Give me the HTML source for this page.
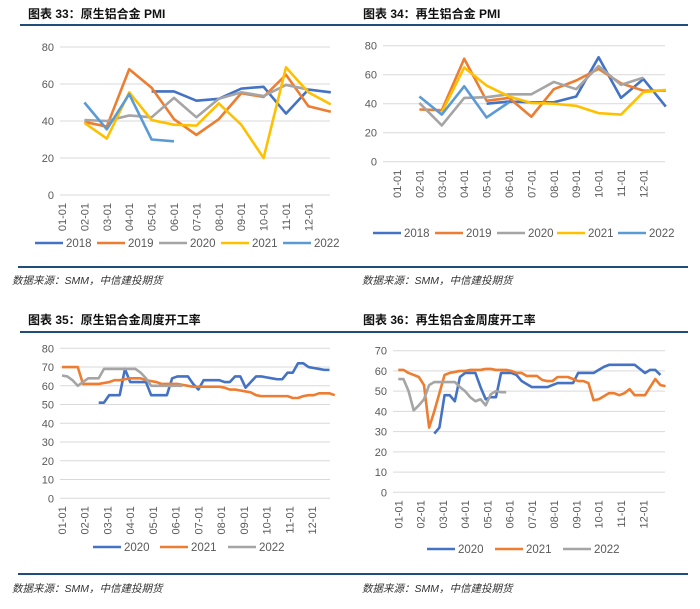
<!DOCTYPE html>
<html><head><meta charset="utf-8">
<style>
body{margin:0;background:#fff;}
svg text{font-family:"Liberation Sans","Noto Sans CJK SC",sans-serif;}
</style></head>
<body>
<svg id="s" width="700" height="604" xmlns="http://www.w3.org/2000/svg">
<g font-family="'Liberation Serif','Noto Serif CJK SC',serif" font-weight="bold" font-size="12" fill="#111">
<text x="28" y="18">图表 33：原生铝合金 PMI</text>
<text x="363" y="18">图表 34：再生铝合金 PMI</text>
<text x="28" y="324">图表 35：原生铝合金周度开工率</text>
<text x="363" y="324">图表 36：再生铝合金周度开工率</text>
</g>
<g stroke="#1F4E79" stroke-width="2">
<line x1="20" y1="25" x2="350" y2="25"/><line x1="350" y1="25" x2="688" y2="25"/>
<line x1="18" y1="267" x2="350" y2="267"/><line x1="350" y1="267" x2="688" y2="267"/>
<line x1="20" y1="332" x2="350" y2="332"/><line x1="350" y1="332" x2="688" y2="332"/>
<line x1="18" y1="574" x2="350" y2="574"/><line x1="350" y1="574" x2="688" y2="574"/>
</g>
<g font-family="'Liberation Serif','Noto Serif CJK SC',serif" font-style="italic" font-size="10.5" fill="#333">
<text x="12" y="284">数据来源：SMM，中信建投期货</text>
<text x="362" y="284">数据来源：SMM，中信建投期货</text>
<text x="12" y="592">数据来源：SMM，中信建投期货</text>
<text x="362" y="592">数据来源：SMM，中信建投期货</text>
</g>
</svg>
<script>
// x categories
const monthLabels=["01-01","02-01","03-01","04-01","05-01","06-01","07-01","08-01","09-01","10-01","11-01","12-01"];
// Chart 33 (monthly; index 1..12 = months from 02-01)
const c33_2018=[56,56,51,52,57.5,58.5,44,57,55.5];
const c33_2019=[39.5,37,68,58,41,32.5,41,55,53,65,48,45];
const c33_2020=[40.5,40,43,42,52.5,42,52,55.5,53.5,59.5,57];
const c33_2021=[39,30.5,55.5,40.5,38,37.5,49.5,38,20,69,55.5,49];
const c33_2022=[50,35.5,54.5,30,29];
const c33Ticks=[0,20,40,60,80];
// Chart 34
const c34_2018=[40,41.5,41,41,45,72,44,57,38];
const c34_2019=[36,35.5,71,42,44,31,50,56,64,54,49,49];
const c34_2020=[40.5,25,44,44.5,46.5,46.5,55,50,66,53,58];
const c34_2021=[34,65,52.5,45,40.5,40,38.5,33.5,32.5,48,49.5];
const c34_2022=[45,32.5,52,30.5,41];
const c34Ticks=[0,20,40,60,80];
// Chart 35 (weekly)
const c35_2020=[51,51,55,55,55,69,62,62,62,62,55,55,55,55,64,65,65,65,61,58,63,63,63,63,62,62,65,65,59,62,65,65,64.5,64,63.5,63.5,67,67,72,72,70,69.5,69,68.5,68.5];
const c35_2020Start=7;
const c35_2021=[70,70,70,70,61,61,61,61,61.5,62,63,63,63.5,64,64,64,63,62.5,62,61,61,61,61,60.5,60,59.5,59.5,59.5,59.5,59.5,59.5,59,58,58,57.5,57,56.5,55,54.5,54.5,54.5,54.5,54.5,54.5,53.5,53.5,54.5,55,55,56,56,56,55];
const c35_2022=[65.5,65,63,60,62,64,64,64,69,69,69,69,69,69,69,67,64,60,60,60,60,60,60,60];
const c35Ticks=[0,10,20,30,40,50,60,70,80];
// Chart 36 (weekly)
const c36_2020=[29,32,48,48,45,57,59,59,59,52,46,47,47,59,59,59,58,55,53.5,52,52,52,52,53,54,54,54,54,59,59,59,59,60.5,62,63,63,63,63,63,63,61,59,60.5,60.5,58];
const c36_2020Start=7;
const c36_2021=[60.5,60.5,59,58,57,53,32,40,49,58,59,59.5,60,60,60.5,60.5,60.5,61,61,60.5,60.5,60.5,60,59,59,57.5,57.5,57.5,55.5,55,55,57,57,57,56,55,55,54,45.5,46,47.5,49,49,48,49,51,48,48,48,52,56,53,52.5];
const c36_2022=[56,56,50,40.5,43,46,53,54.5,54.5,54.5,54.5,54.5,52,50,47,45,46,43,48.5,50,49.5,49.5];
const c36Ticks=[0,10,20,30,40,50,60,70];

const S=document.getElementById('s');const NS='http://www.w3.org/2000/svg';
function mk(t,a,p){const e=document.createElementNS(NS,t);for(const k in a)e.setAttribute(k,a[k]);(p||S).appendChild(e);return e;}
const C={b:'#4472C4',o:'#ED7D31',g:'#A5A5A5',y:'#FFC000',lb:'#5B9BD5'};

function chart(cfg){
  const g=mk('g',{});
  
  
  const ys=v=>cfg.y0-(v-cfg.tmin)/(cfg.tmax-cfg.tmin)*(cfg.y0-cfg.y1);
  const xs=m=>cfg.x0+m*cfg.dx;
  cfg.ticks.forEach(t=>{
    const l=mk('line',{x1:cfg.gl,x2:cfg.gr,y1:ys(t),y2:ys(t),stroke:'#D9D9D9','stroke-width':1},g);
    
    
    const tx=mk('text',{x:cfg.gl-6,y:ys(t)+4,'text-anchor':'end','font-size':11,fill:'#595959'},g);
    
    
    tx.textContent=t;
  });
  monthLabels.forEach((m,i)=>{
    const x=xs(i)+4,y=cfg.y0+8;
    const tx=mk('text',{x:x,y:y,'text-anchor':'end','font-size':11,fill:'#595959',transform:`rotate(-90 ${x} ${y})`},g);
    
    
    tx.textContent=m;
  });
  cfg.series.forEach(s=>{
    const pts=s.data.map((v,i)=>xs((s.start+i)*cfg.step)+','+ys(v)).join(' ');
    const p=mk('polyline',{points:pts,fill:'none',stroke:s.c,'stroke-width':2.6,'stroke-linejoin':'round'},g);
    
    
  });
  cfg.series.forEach((s,i)=>{
    const lx=cfg.leg[i];
    const l=mk('line',{x1:lx,x2:lx+28,y1:cfg.ly,y2:cfg.ly,stroke:s.c,'stroke-width':2.6},g);
    
    
    const t=mk('text',{x:lx+31,y:cfg.ly+4,'font-size':11.5,fill:'#595959'},g);
    
    
    t.textContent=s.n;
  });
}
const wk=12/52;
chart({name:'chart-33',x0:62,dx:22.4,y0:195,y1:47,tmin:0,tmax:80,ticks:c33Ticks,gl:60,gr:330,step:1,ly:243,leg:[35,97,159,221,283],
 series:[{n:'2018',c:C.b,start:4,data:c33_2018},{n:'2019',c:C.o,start:1,data:c33_2019},{n:'2020',c:C.g,start:1,data:c33_2020},{n:'2021',c:C.y,start:1,data:c33_2021},{n:'2022',c:C.lb,start:1,data:c33_2022}]});
chart({name:'chart-34',x0:397,dx:22.4,y0:161.7,y1:45.7,tmin:0,tmax:80,ticks:c34Ticks,gl:383,gr:665,step:1,ly:233,leg:[373,435,497,557,618],
 series:[{n:'2018',c:C.b,start:4,data:c34_2018},{n:'2019',c:C.o,start:1,data:c34_2019},{n:'2020',c:C.g,start:1,data:c34_2020},{n:'2021',c:C.y,start:2,data:c34_2021},{n:'2022',c:C.lb,start:1,data:c34_2022}]});
chart({name:'chart-35',x0:62,dx:22.73,y0:498.3,y1:348.3,tmin:0,tmax:80,ticks:c35Ticks,gl:60,gr:330,step:wk,ly:547,leg:[93,160,228],
 series:[{n:'2020',c:C.b,start:c35_2020Start,data:c35_2020},{n:'2021',c:C.o,start:0,data:c35_2021},{n:'2022',c:C.g,start:0,data:c35_2022}]});
chart({name:'chart-36',x0:398.3,dx:22.27,y0:492.3,y1:350.7,tmin:0,tmax:70,ticks:c36Ticks,gl:393,gr:665,step:wk,ly:549,leg:[427,495,563],
 series:[{n:'2020',c:C.b,start:c36_2020Start,data:c36_2020},{n:'2021',c:C.o,start:0,data:c36_2021},{n:'2022',c:C.g,start:0,data:c36_2022}]});
</script>
</body></html>
